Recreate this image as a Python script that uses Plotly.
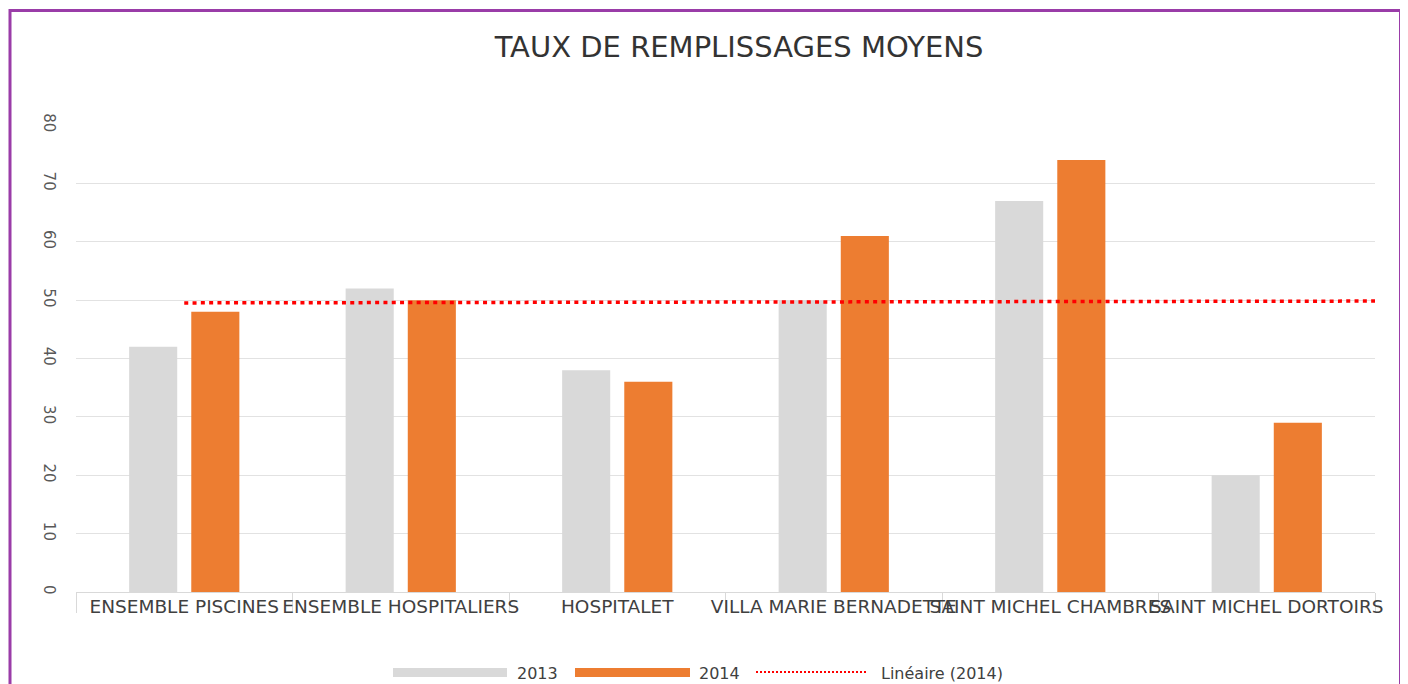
import numpy as np
import plotly.graph_objects as go

# ---------------- data ----------------
categories = ["ENSEMBLE PISCINES", "ENSEMBLE HOSPITALIERS", "HOSPITALET",
              "VILLA MARIE BERNADETTE", "SAINT MICHEL CHAMBRES", "SAINT MICHEL DORTOIRS"]
values_2013 = [42, 52, 38, 50, 67, 20]
values_2014 = [48, 50, 36, 61, 74, 29]
y_tick_values = [0, 10, 20, 30, 40, 50, 60, 70, 80]
series_names = ["2013", "2014", "Linéaire (2014)"]
title_text = "TAUX DE REMPLISSAGES MOYENS"

# linear trend of the 2014 series (Excel-style trendline, extended half a category forward)
idx = np.arange(len(categories))
slope, intercept = np.polyfit(idx, values_2014, 1)
trend_forward = 0.5
trend_x = [0.0, len(categories) - 1 + trend_forward]
trend_y = [intercept + slope * x for x in trend_x]

# ---------------- layout geometry (page pixels) ----------------
OFF = 8                      # default body margin of the html page
W, H = 1408 - OFF, 684 - OFF
P_LEFT, P_RIGHT, P_TOP, P_BOTTOM = 76, 1375, 125, 592   # plot area in page pixels
ML = P_LEFT - OFF
MT = P_TOP - OFF
MR = W - (P_RIGHT - OFF)
MB = H - (P_BOTTOM - OFF)
PW, PH = W - ML - MR, H - MT - MB


def fx(px):
    return (px - P_LEFT) / PW


def fy(py):
    return (P_BOTTOM - py) / PH


FONT = "DejaVu Sans"
GREY = "#D9D9D9"
ORANGE = "#ED7D31"
RED = "#FF0000"
TEXT = "#404040"
PURPLE = "#9A3CA8"

fig = go.Figure()
fig.add_trace(go.Bar(x=categories, y=values_2013, name=series_names[0],
                     marker=dict(color=GREY, line=dict(width=0)), showlegend=False))
fig.add_trace(go.Bar(x=categories, y=values_2014, name=series_names[1],
                     marker=dict(color=ORANGE, line=dict(width=0)), showlegend=False))
fig.add_trace(go.Scatter(x=trend_x, y=trend_y, xaxis="x2", yaxis="y", mode="lines",
                         name=series_names[2],
                         line=dict(color=RED, width=3.5, dash="4px,4.3px"),
                         showlegend=False, hoverinfo="skip"))

shapes = []
# purple frame around the picture
shapes.append(dict(type="rect", xref="paper", yref="paper",
                   x0=fx(10), x1=fx(1400.5), y0=fy(720), y1=fy(10.5),
                   line=dict(color=PURPLE, width=3), fillcolor="rgba(0,0,0,0)", layer="above"))
# manual legend swatches
shapes.append(dict(type="rect", xref="paper", yref="paper",
                   x0=fx(393), x1=fx(507), y0=fy(677), y1=fy(668),
                   line=dict(width=0), fillcolor=GREY))
shapes.append(dict(type="rect", xref="paper", yref="paper",
                   x0=fx(575), x1=fx(690), y0=fy(677), y1=fy(668),
                   line=dict(width=0), fillcolor=ORANGE))
shapes.append(dict(type="line", xref="paper", yref="paper",
                   x0=fx(756), x1=fx(868), y0=fy(672), y1=fy(672),
                   line=dict(color=RED, width=2, dash="2px,2px")))

annotations = []
for label, xpx in zip(series_names, [515, 697, 879]):
    annotations.append(dict(text=label, xref="paper", yref="paper", x=fx(xpx), y=fy(673),
                            xanchor="left", yanchor="middle", showarrow=False,
                            font=dict(family=FONT, size=16, color=TEXT)))

fig.update_layout(
    width=W, height=H,
    margin=dict(l=ML, r=MR, t=MT, b=MB, pad=0),
    paper_bgcolor="white", plot_bgcolor="white",
    barmode="group", bargap=0.426, bargroupgap=0.226,
    title=dict(text=title_text, x=(739 - OFF) / W, xref="container", xanchor="center",
               y=1 - (47 - OFF) / H, yref="container", yanchor="middle",
               font=dict(family=FONT, size=29, color="#333333")),
    xaxis=dict(type="category", showgrid=False, showline=True, linecolor=GREY, linewidth=1,
               ticks="outside", tickson="boundaries", ticklen=20, tickcolor=GREY, tickwidth=1,
               tickangle=0, tickfont=dict(family=FONT, size=18.5, color=TEXT),
               ticklabelstandoff=-2, range=[-0.5, len(categories) - 0.5], fixedrange=True),
    xaxis2=dict(overlaying="x", range=[-0.5, len(categories) - 0.5], visible=False,
                fixedrange=True),
    yaxis=dict(range=[0, 80], tickvals=y_tick_values, showgrid=True, gridcolor="#E2E2E2",
               gridwidth=1, zeroline=False, showline=False, ticks="",
               tickangle=90, tickfont=dict(family=FONT, size=15, color="#595959"),
               ticklabelstandoff=16, fixedrange=True),
    shapes=shapes, annotations=annotations, showlegend=False,
)

fig.write_html("out.html")
